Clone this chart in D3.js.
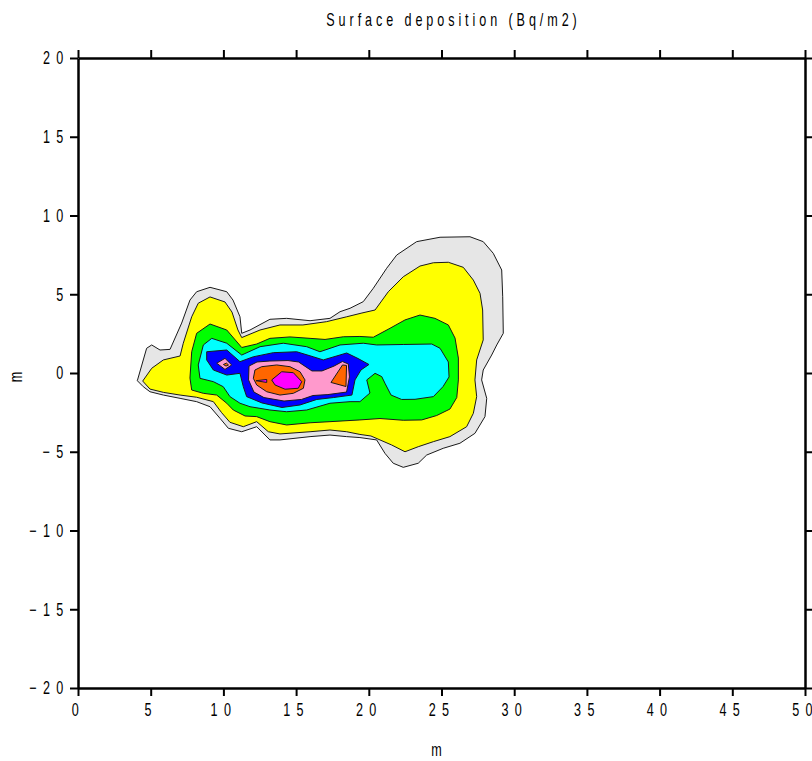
<!DOCTYPE html>
<html>
<head>
<meta charset="utf-8">
<script src="https://cdn.jsdelivr.net/npm/d3@7"></script>
<style>
  body { margin: 0; background: #fff; }
  svg text { font-family: 'Liberation Sans', Arial, sans-serif; fill: #000; }
</style>
</head>
<body>
<div id="chart"></div>
<script>
const xTicks = [0, 5, 10, 15, 20, 25, 30, 35, 40, 45, 50];
const yTicks = [-20, -15, -10, -5, 0, 5, 10, 15, 20];

// contour rings in metres, lowest level first
const greyRing = [[4.08,-0.49],[4.72,1.57],[5.07,1.78],[5.64,1.46],[6.33,1.50],[7.13,3.17],[7.70,4.63],[8.16,5.16],[9.08,5.44],[10.23,5.16],[10.66,4.63],[11.14,3.57],[11.26,2.52],[11.83,2.73],[13.20,3.41],[14.35,3.47],[15.96,3.32],[17.33,3.47],[18.02,3.89],[18.71,4.11],[19.62,4.53],[20.31,5.38],[21.23,6.65],[21.92,7.49],[23.29,8.34],[24.90,8.62],[26.96,8.65],[27.87,8.34],[28.56,7.60],[29.14,6.54],[29.21,4.84],[29.25,2.52],[28.80,1.78],[28.45,1.14],[27.87,0.19],[27.76,-0.44],[28.11,-1.61],[27.99,-2.77],[27.30,-3.83],[26.27,-4.46],[25.12,-4.78],[23.98,-5.21],[23.40,-5.73],[22.37,-5.99],[21.68,-5.73],[21.11,-5.10],[20.54,-4.25],[19.39,-4.10],[18.48,-4.04],[17.33,-3.94],[15.96,-4.04],[13.89,-4.25],[13.20,-4.25],[12.29,-3.41],[11.26,-3.73],[10.34,-3.51],[9.77,-2.88],[9.08,-2.14],[8.16,-1.82],[7.02,-1.61],[5.87,-1.40],[4.95,-1.19],[4.49,-0.87]];
const yellowRing = [[4.45,-0.51],[5.07,0.30],[5.87,0.83],[7.02,1.08],[7.24,1.89],[7.82,3.57],[8.27,4.43],[9.08,4.83],[10.11,4.51],[10.59,3.87],[11.00,2.73],[11.26,2.25],[12.52,2.73],[13.89,3.05],[15.47,3.05],[17.10,3.26],[18.48,3.57],[19.53,3.81],[20.43,4.00],[21.34,5.16],[22.37,6.11],[23.52,6.79],[24.44,7.00],[25.47,7.03],[26.50,6.71],[27.19,5.90],[27.65,5.06],[27.83,4.00],[27.87,2.10],[27.42,0.83],[27.30,-0.44],[27.42,-1.50],[27.19,-2.56],[26.73,-3.41],[25.58,-4.04],[24.44,-4.36],[23.40,-4.68],[22.49,-5.00],[21.57,-4.57],[20.77,-4.25],[20.15,-4.00],[19.39,-3.90],[18.48,-3.73],[17.33,-3.62],[15.96,-3.73],[13.89,-3.87],[13.09,-3.73],[12.29,-3.09],[11.37,-3.41],[10.45,-3.13],[9.88,-2.52],[9.31,-1.82],[8.16,-1.54],[7.02,-1.40],[5.87,-1.23],[4.95,-1.02]];
const greenRing = [[7.70,-0.32],[7.82,1.35],[8.16,2.52],[9.08,3.11],[10.23,2.73],[11.26,1.62],[12.29,1.84],[13.20,2.20],[14.58,2.29],[15.96,2.20],[16.99,2.13],[18.25,2.30],[19.39,2.32],[20.31,2.27],[21.46,2.84],[22.49,3.37],[23.52,3.68],[24.55,3.47],[25.47,3.05],[25.93,2.22],[26.16,0.95],[26.16,-0.44],[26.05,-1.56],[25.58,-2.29],[24.67,-2.70],[23.64,-2.98],[22.37,-3.00],[20.77,-2.89],[19.39,-2.98],[17.33,-3.09],[15.96,-3.16],[14.35,-3.30],[13.20,-3.09],[12.29,-2.77],[11.49,-2.73],[10.68,-2.35],[10.23,-1.92],[9.54,-1.40],[8.62,-1.29],[7.82,-1.08]];
const cyanRing = [[8.27,0.51],[8.62,1.78],[9.20,2.20],[10.23,1.89],[11.26,1.14],[12.52,1.67],[14.12,1.89],[15.73,1.67],[16.64,1.35],[18.02,1.78],[19.62,1.89],[20.54,1.78],[22.37,1.81],[24.33,1.84],[24.90,1.57],[25.47,0.70],[25.52,-0.25],[25.10,-0.87],[24.44,-1.50],[23.18,-1.67],[22.26,-1.68],[21.53,-1.40],[21.11,-0.65],[20.89,-0.23],[20.43,-0.02],[19.86,-0.44],[20.08,-1.27],[19.39,-1.82],[18.71,-1.82],[17.33,-1.92],[15.73,-2.35],[14.35,-2.46],[13.20,-2.35],[11.83,-2.14],[11.14,-1.92],[10.45,-1.50],[9.99,-0.87],[9.31,-0.55],[8.39,-0.34]];
const blueRing = [[8.85,0.83],[8.85,1.35],[10.23,1.46],[11.14,0.72],[12.06,1.03],[13.43,1.29],[15.04,1.35],[16.18,1.03],[16.87,0.83],[18.48,1.27],[19.26,0.92],[20.01,0.54],[19.46,0.19],[19.05,-0.44],[18.84,-1.40],[17.56,-1.56],[16.42,-1.68],[15.27,-2.03],[14.03,-2.19],[12.65,-1.90],[11.60,-1.50],[11.37,-0.87],[11.14,-0.02],[10.23,-0.13],[9.31,0.19]];
const pinkRing = [[11.76,0.44],[12.31,0.70],[13.20,0.76],[14.44,0.79],[15.17,0.70],[16.09,0.13],[16.78,0.13],[17.61,0.44],[18.19,0.73],[18.59,0.57],[18.67,-0.25],[18.47,-1.21],[17.19,-1.37],[16.16,-1.43],[15.37,-1.68],[14.17,-1.78],[12.79,-1.56],[12.10,-1.21],[11.73,-0.44]];
const pinkSpot = [[9.54,0.62],[10.11,0.93],[10.57,0.51],[10.11,0.23]];
const orangeRing = [[12.17,0.19],[12.63,0.40],[13.67,0.51],[14.58,0.40],[15.27,0.08],[15.61,-0.44],[15.50,-0.97],[14.81,-1.29],[13.89,-1.40],[12.98,-1.19],[12.29,-0.76],[12.06,-0.34]];
const orangeSpot = [[17.40,-0.60],[18.19,0.51],[18.47,0.48],[18.43,-0.86]];
const darkSpot = [[10.00,0.54],[10.21,0.63],[10.35,0.51],[10.18,0.44]];
const magentaRing = [[13.32,-0.44],[14.01,0.08],[14.81,0.02],[15.39,-0.55],[15.15,-0.97],[14.24,-1.03],[13.55,-0.76]];
const magentaSliver = [[12.24,-0.49],[12.98,-0.41],[12.98,-0.60]];

const W = 812, H = 761;
const margin = { top: 58, right: 7, bottom: 73, left: 78 };
const SX = 0.7; // the original uses a tall condensed face

const svg = d3.select('#chart').append('svg')
  .attr('width', W)
  .attr('height', H);

const x = d3.scaleLinear().domain([0, 50]).range([margin.left, W - margin.right]);
const y = d3.scaleLinear().domain([-20, 20]).range([H - margin.bottom, margin.top]);

const ring = d3.line()
  .x(d => x(d[0]))
  .y(d => y(d[1]))
  .curve(d3.curveLinearClosed);

const bands = [
  { pts: greyRing, fill: '#e6e6e6' },
  { pts: yellowRing, fill: '#ffff00' },
  { pts: greenRing, fill: '#00ff00' },
  { pts: cyanRing, fill: '#00ffff' },
  { pts: blueRing, fill: '#0000ff' },
  { pts: pinkRing, fill: '#ff99cc' },
  { pts: pinkSpot, fill: '#ff99cc' },
  { pts: orangeRing, fill: '#ff6600' },
  { pts: orangeSpot, fill: '#ff6600' },
  { pts: darkSpot, fill: '#ff6600' },
  { pts: magentaRing, fill: '#ff00ff' },
  { pts: magentaSliver, fill: '#ff00ff' }
];

svg.append('g').selectAll('path.band')
  .data(bands)
  .join('path')
  .attr('class', 'band')
  .attr('d', d => ring(d.pts))
  .attr('fill', d => d.fill)
  .attr('stroke', '#1a1a1a')
  .attr('stroke-width', 1)
  .attr('stroke-linejoin', 'round');

// axes on all four sides, ticks outward
const axes = [
  { gen: d3.axisBottom(x).tickValues(xTicks), at: `translate(0,${H - margin.bottom})`, labels: true },
  { gen: d3.axisTop(x).tickValues(xTicks).tickFormat(''), at: `translate(0,${margin.top})` },
  { gen: d3.axisLeft(y).tickValues(yTicks), at: `translate(${margin.left},0)`, labels: true, left: true },
  { gen: d3.axisRight(y).tickValues(yTicks).tickFormat(''), at: `translate(${W - margin.right},0)` }
];

axes.forEach(a => {
  const g = svg.append('g')
    .attr('transform', a.at)
    .call(a.gen.tickSize(8).tickSizeOuter(0).tickPadding(7));
  g.select('.domain').attr('stroke', '#000').attr('stroke-width', 2.5);
  g.selectAll('.tick line').attr('stroke', '#000').attr('stroke-width', 2);
  if (!a.labels) return;
  const t = g.selectAll('.tick text')
    .attr('font-size', 18)
    .attr('font-family', null)
    .style('letter-spacing', '9px')
    .attr('transform', `scale(${SX},1)`);
  if (a.left) t.attr('x', -8.5 / SX);
});

svg.append('text')
  .attr('transform', `translate(${(margin.left + W - margin.right) / 2 + 12},26) scale(${SX},1)`)
  .attr('text-anchor', 'middle')
  .attr('font-size', 18)
  .style('letter-spacing', '5.6px')
  .text('Surface deposition (Bq/m2)');

svg.append('text')
  .attr('transform', `translate(${(margin.left + W - margin.right) / 2 - 5},756) scale(${SX},1)`)
  .attr('text-anchor', 'middle')
  .attr('font-size', 18)
  .text('m');

svg.append('text')
  .attr('transform', `translate(22,${y(0) + 4}) rotate(-90) scale(${SX},1)`)
  .attr('text-anchor', 'middle')
  .attr('font-size', 18)
  .text('m');
</script>
</body>
</html>
